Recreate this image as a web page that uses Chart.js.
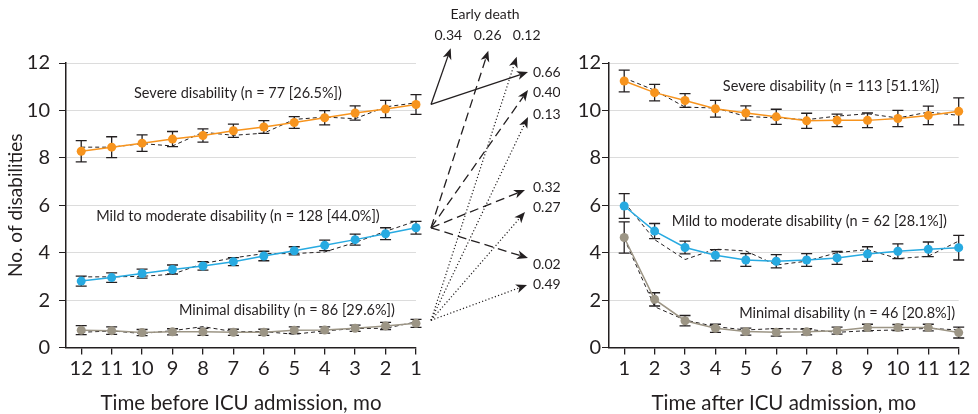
<!DOCTYPE html>
<html>
<head>
<meta charset="utf-8">
<script src="https://cdn.jsdelivr.net/npm/chart.js@4.4.1/dist/chart.umd.min.js"></script>
<style>
  body { margin: 0; background: #fff; }
  #wrap { position: relative; width: 978px; height: 414px; }
  canvas { position: absolute; top: 0; }
  #before { left: 0; }
  #after { left: 560px; }
</style>
</head>
<body>
<div id="wrap">
  <canvas id="before" width="560" height="414"></canvas>
  <canvas id="after" width="418" height="414"></canvas>
</div>
<script>
const monthsBefore = [12, 11, 10, 9, 8, 7, 6, 5, 4, 3, 2, 1];
const monthsAfter = [1, 2, 3, 4, 5, 6, 7, 8, 9, 10, 11, 12];
const yTicks = [0, 2, 4, 6, 8, 10, 12];

// before ICU admission (fitted, observed, SE)
const severeBefore = [8.28, 8.45, 8.62, 8.79, 8.94, 9.14, 9.30, 9.49, 9.69, 9.89, 10.06, 10.25];
const severeBeforeObs = [8.45, 8.45, 8.60, 8.50, 9.08, 8.95, 9.04, 9.62, 9.72, 9.65, 10.15, 10.32];
const severeBeforeErr = [0.45, 0.44, 0.35, 0.32, 0.28, 0.28, 0.27, 0.25, 0.30, 0.30, 0.36, 0.42];
const mildBefore = [2.80, 2.95, 3.12, 3.29, 3.44, 3.62, 3.86, 4.08, 4.31, 4.55, 4.80, 5.05];
const mildBeforeObs = [2.98, 2.98, 3.00, 3.09, 3.54, 3.78, 3.96, 3.96, 4.03, 4.43, 4.90, 5.33];
const mildBeforeErr = [0.21, 0.20, 0.19, 0.19, 0.18, 0.17, 0.20, 0.17, 0.22, 0.23, 0.25, 0.27];
const minimalBefore = [0.73, 0.71, 0.63, 0.66, 0.66, 0.64, 0.64, 0.73, 0.74, 0.81, 0.91, 1.02];
const minimalBeforeObs = [0.64, 0.70, 0.59, 0.71, 0.88, 0.67, 0.67, 0.56, 0.70, 0.80, 0.81, 1.08];
const minimalBeforeErr = [0.19, 0.16, 0.13, 0.13, 0.15, 0.13, 0.13, 0.14, 0.13, 0.13, 0.15, 0.17];

// after ICU admission
const severeAfter = [11.24, 10.75, 10.42, 10.07, 9.89, 9.73, 9.56, 9.58, 9.58, 9.66, 9.79, 9.96];
const severeAfterObs = [11.37, 10.85, 10.14, 10.10, 9.75, 9.68, 9.61, 9.76, 9.86, 9.68, 9.93, 9.79];
const severeAfterErr = [0.46, 0.35, 0.29, 0.35, 0.30, 0.32, 0.32, 0.26, 0.31, 0.34, 0.39, 0.57];
const mildAfter = [5.97, 4.91, 4.22, 3.89, 3.69, 3.64, 3.69, 3.78, 3.94, 4.06, 4.14, 4.21];
const mildAfterObs = [6.13, 4.55, 3.71, 4.15, 4.07, 3.48, 3.64, 4.00, 4.13, 3.75, 3.85, 4.49];
const mildAfterErr = [0.52, 0.32, 0.27, 0.24, 0.27, 0.28, 0.27, 0.27, 0.31, 0.31, 0.31, 0.52];
const minimalAfter = [4.64, 2.03, 1.13, 0.81, 0.67, 0.64, 0.66, 0.71, 0.84, 0.84, 0.84, 0.63];
const minimalAfterObs = [4.60, 1.72, 1.16, 0.88, 0.74, 0.80, 0.77, 0.64, 0.71, 0.74, 0.81, 0.74];
const minimalAfterErr = [0.66, 0.28, 0.22, 0.17, 0.15, 0.16, 0.13, 0.15, 0.14, 0.13, 0.14, 0.23];

// transition probabilities from [severe, mild, minimal]
const deathProb = [0.34, 0.26, 0.12];
const toSevereProb = [0.66, 0.40, 0.13];
const toMildProb = [null, 0.32, 0.27];
const toMinimalProb = [null, 0.02, 0.49];

const groupNamesBefore = ["Severe disability (n = 77 [26.5%])", "Mild to moderate disability (n = 128 [44.0%])", "Minimal disability (n = 86 [29.6%])"];
const groupNamesAfter = ["Severe disability (n = 113 [51.1%])", "Mild to moderate disability (n = 62 [28.1%])", "Minimal disability (n = 46 [20.8%])"];

const ORANGE = "#f7941e", BLUE = "#27aae1", GRAY = "#9c9585";
const FONT = "Lato";
const INK = "#231f20";

function pts(xs, ys) { return xs.map((x, i) => ({ x: x, y: ys[i] })); }

function buildDatasets(xs, groups) {
  const out = [];
  groups.forEach(g => {
    out.push({
      data: pts(xs, g.obs), borderColor: INK, borderWidth: 1, borderDash: [4, 3],
      pointRadius: 0, fill: false, clip: false, order: 2
    });
  });
  groups.forEach(g => {
    out.push({
      data: pts(xs, g.fit), err: g.err, borderColor: g.color, backgroundColor: g.color,
      borderWidth: 1.5, pointRadius: 4.5, pointBorderWidth: 0, fill: false, clip: false, order: 1
    });
  });
  return out;
}

const errorBars = {
  id: "errorBars",
  beforeDatasetsDraw(chart) {
    const { ctx, scales: { x, y } } = chart;
    ctx.save();
    ctx.strokeStyle = INK;
    ctx.lineWidth = 1.3;
    chart.data.datasets.forEach(ds => {
      if (!ds.err) return;
      ds.data.forEach((p, i) => {
        const px = x.getPixelForValue(p.x);
        const top = y.getPixelForValue(p.y + ds.err[i]);
        const bot = y.getPixelForValue(p.y - ds.err[i]);
        ctx.beginPath();
        ctx.moveTo(px, top); ctx.lineTo(px, bot);
        ctx.moveTo(px - 5.5, top); ctx.lineTo(px + 5.5, top);
        ctx.moveTo(px - 5.5, bot); ctx.lineTo(px + 5.5, bot);
        ctx.stroke();
      });
    });
    ctx.restore();
  }
};

const groupLabels = {
  id: "groupLabels",
  afterDraw(chart, args, opts) {
    const { ctx, scales: { x, y } } = chart;
    ctx.save();
    ctx.font = "14.5px " + FONT;
    ctx.fillStyle = INK;
    ctx.textAlign = "center";
    ctx.textBaseline = "middle";
    opts.items.forEach(it => {
      ctx.fillText(it.text, x.getPixelForValue(it.x), y.getPixelForValue(it.y));
    });
    ctx.restore();
  }
};

function arrowHead(ctx, x0, y0, x1, y1) {
  const a = Math.atan2(y1 - y0, x1 - x0);
  const len = 11, half = 4.5, notch = 3;
  ctx.save();
  ctx.translate(x1, y1);
  ctx.rotate(a);
  ctx.setLineDash([]);
  ctx.beginPath();
  ctx.moveTo(0, 0);
  ctx.lineTo(-len, -half);
  ctx.lineTo(-len + notch, 0);
  ctx.lineTo(-len, half);
  ctx.closePath();
  ctx.fill();
  ctx.restore();
}

// transition arrows between the two panels, drawn on the left canvas
const transitions = {
  id: "transitions",
  afterDraw(chart) {
    const { ctx, scales: { x, y } } = chart;
    const x0 = x.getPixelForValue(1) + 15;
    const fits = [severeBefore, mildBefore, minimalBefore];
    const srcY = fits.map((f, i) => y.getPixelForValue(f[f.length - 1]) - (i === 2 ? 3 : 0));
    const dashes = [[], [9, 5], [1.2, 2.2]];
    const deathTips = [[450.7, 48.3], [488.3, 50.7], [516.7, 56.7]];
    const deathLabelX = [448.3, 487.7, 526.7];
    const severeTips = [[528, 72], [528, 90], [528, 117]];
    const severeLabelY = [72, 92, 114];
    const mildTips = [null, [525, 190], [525, 212]];
    const mildLabelY = [null, 187, 207];
    const minimalTips = [null, [528, 258], [527, 285]];
    const minimalLabelY = [null, 264, 284];

    ctx.save();
    ctx.fillStyle = INK;
    ctx.strokeStyle = INK;
    ctx.font = "14px " + FONT;
    ctx.textBaseline = "middle";
    ctx.textAlign = "center";
    ctx.fillText("Early death", 485, 14);

    const draw = (i, tip) => {
      const a = Math.atan2(tip[1] - srcY[i], tip[0] - x0);
      const ex = tip[0] - Math.cos(a) * 8, ey = tip[1] - Math.sin(a) * 8;
      ctx.lineWidth = i === 2 ? 1.2 : 1.3;
      ctx.setLineDash(dashes[i]);
      ctx.beginPath();
      ctx.moveTo(x0, srcY[i]);
      ctx.lineTo(ex, ey);
      ctx.stroke();
      arrowHead(ctx, x0, srcY[i], tip[0], tip[1]);
    };

    for (let i = 0; i < 3; i++) {
      draw(i, deathTips[i]);
      ctx.textAlign = "center";
      ctx.fillText(deathProb[i].toFixed(2), deathLabelX[i], 35);
      ctx.textAlign = "left";
      draw(i, severeTips[i]);
      ctx.fillText(toSevereProb[i].toFixed(2), 533, severeLabelY[i]);
      if (toMildProb[i] !== null) {
        draw(i, mildTips[i]);
        ctx.fillText(toMildProb[i].toFixed(2), 533, mildLabelY[i]);
      }
      if (toMinimalProb[i] !== null) {
        draw(i, minimalTips[i]);
        ctx.fillText(toMinimalProb[i].toFixed(2), 533, minimalLabelY[i]);
      }
    }
    ctx.restore();
  }
};

function panelOptions(cfg) {
  return {
    responsive: false,
    animation: false,
    layout: { padding: cfg.padding },
    plugins: {
      legend: { display: false },
      tooltip: { enabled: false },
      groupLabels: { items: cfg.labels }
    },
    scales: {
      x: {
        type: "linear",
        reverse: cfg.reverse,
        min: cfg.xmin,
        max: cfg.xmax,
        afterBuildTicks: s => { s.ticks = cfg.xticks.map(v => ({ value: v })); },
        afterFit: s => { s.height = 66.5; },
        border: { color: INK, width: 1.5 },
        grid: { drawOnChartArea: false, drawTicks: true, tickLength: 7, color: INK, lineWidth: 1.3 },
        ticks: { color: INK, font: { family: FONT, size: 20 }, padding: 2, maxRotation: 0, autoSkip: false },
        title: {
          display: true, text: cfg.xtitle, color: INK,
          font: { family: FONT, size: 20.5, lineHeight: 1.05 }, padding: { top: 0, bottom: 0 }
        }
      },
      y: {
        min: 0,
        max: 12,
        afterBuildTicks: s => { s.ticks = yTicks.map(v => ({ value: v })); },
        afterFit: s => { s.width = cfg.yWidth; },
        border: { color: INK, width: 1.5 },
        grid: { color: "#dcdcdc", lineWidth: 1, drawTicks: true, tickLength: 7, tickColor: INK },
        ticks: { color: INK, font: { family: FONT, size: 20 }, padding: cfg.yPad },
        title: {
          display: cfg.ytitle !== "", text: cfg.ytitle, color: INK,
          font: { family: FONT, size: 19 }, padding: { top: 4, bottom: 0 }
        }
      }
    }
  };
}

new Chart(document.getElementById("before"), {
  type: "line",
  data: {
    datasets: buildDatasets(monthsBefore, [
      { fit: severeBefore, obs: severeBeforeObs, err: severeBeforeErr, color: ORANGE },
      { fit: mildBefore, obs: mildBeforeObs, err: mildBeforeErr, color: BLUE },
      { fit: minimalBefore, obs: minimalBeforeObs, err: minimalBeforeErr, color: GRAY }
    ])
  },
  options: panelOptions({
    padding: { left: 0, right: 144, top: 63, bottom: 0 },
    reverse: true, xmin: 1, xmax: 12.5, xticks: monthsBefore,
    xtitle: "Time before ICU admission, mo", ytitle: "No. of disabilities",
    yWidth: 66, yPad: 9,
    labels: [
      { text: groupNamesBefore[0], x: 6.85, y: 10.71 },
      { text: groupNamesBefore[1], x: 6.85, y: 5.54 },
      { text: groupNamesBefore[2], x: 5.24, y: 1.58 }
    ]
  }),
  plugins: [errorBars, groupLabels, transitions]
});

new Chart(document.getElementById("after"), {
  type: "line",
  data: {
    datasets: buildDatasets(monthsAfter, [
      { fit: severeAfter, obs: severeAfterObs, err: severeAfterErr, color: ORANGE },
      { fit: mildAfter, obs: mildAfterObs, err: mildAfterErr, color: BLUE },
      { fit: minimalAfter, obs: minimalAfterObs, err: minimalAfterErr, color: GRAY }
    ])
  },
  options: panelOptions({
    padding: { left: 0, right: 19.3, top: 63, bottom: 0 },
    reverse: false, xmin: 0.5, xmax: 12, xticks: monthsAfter,
    xtitle: "Time after ICU admission, mo", ytitle: "",
    yWidth: 49, yPad: 1,
    labels: [
      { text: groupNamesAfter[0], x: 7.8, y: 11.02 },
      { text: groupNamesAfter[1], x: 7.09, y: 5.34 },
      { text: groupNamesAfter[2], x: 8.33, y: 1.44 }
    ]
  }),
  plugins: [errorBars, groupLabels]
});
</script>
</body>
</html>
